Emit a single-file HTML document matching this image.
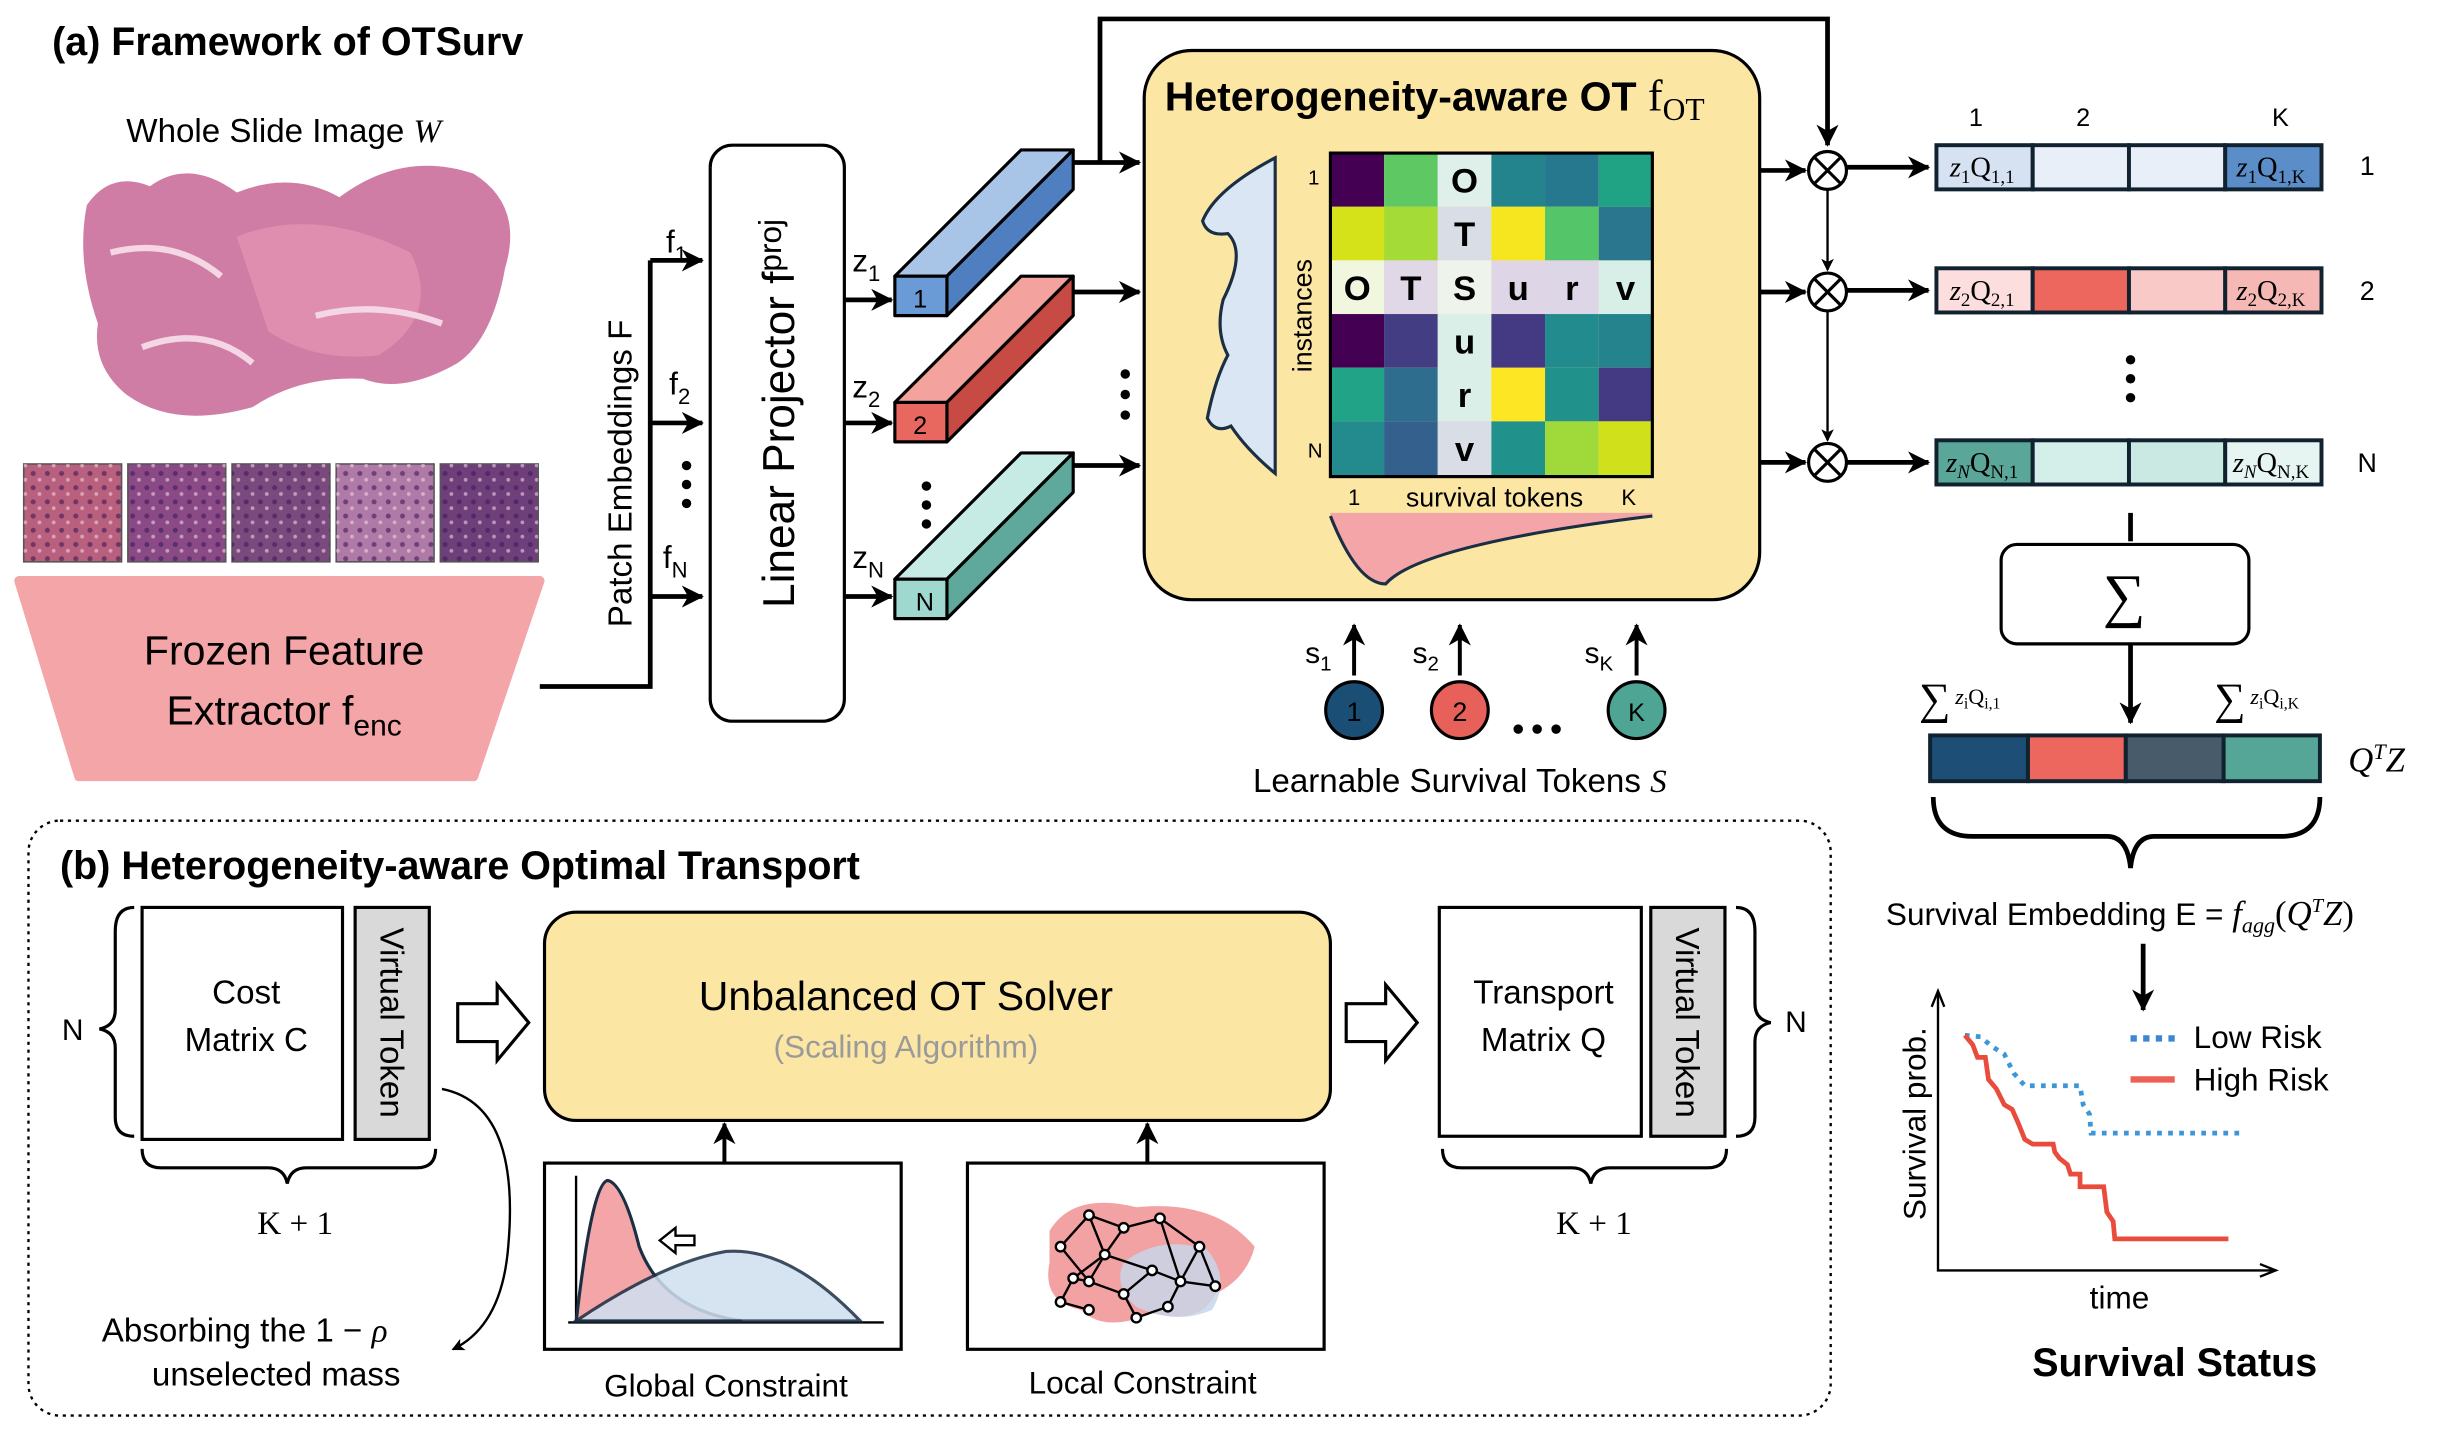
<!DOCTYPE html>
<html><head><meta charset="utf-8"><style>
html,body{margin:0;padding:0;background:#fff;}
svg{display:block;}
text{font-family:"Liberation Sans","DejaVu Sans",sans-serif;fill:#000;}
.s{font-family:"Liberation Serif",serif;}
</style></head><body>
<svg width="2462" height="1429" viewBox="0 0 1560 905.5" xmlns="http://www.w3.org/2000/svg">
<defs>
<marker id="ar" markerWidth="8" markerHeight="8" refX="7" refY="4" orient="auto" markerUnits="userSpaceOnUse"><path d="M0,0 L8,4 L0,8 L2,4z" fill="#000"/></marker>
<marker id="ab" markerWidth="14" markerHeight="14" refX="13" refY="7" orient="auto" markerUnits="userSpaceOnUse"><path d="M0,0 L14,7 L0,14 L4,7z" fill="#000"/></marker>
<pattern id="tex" width="9" height="9" patternUnits="userSpaceOnUse"><circle cx="3" cy="3" r="1.6" fill="#3d1a55" opacity="0.6"/><circle cx="7" cy="7" r="1.2" fill="#f0d0e0" opacity="0.6"/></pattern>
</defs>
<rect width="1560" height="906" fill="#fff"/>
<!-- (a) -->
<text x="33" y="35" font-size="25" font-weight="bold">(a) Framework of OTSurv</text>
<text x="80" y="90" font-size="21">Whole Slide Image <tspan class="s" font-style="italic">W</tspan></text>
<path d="M55,130 Q70,108 95,118 Q120,100 150,122 Q185,108 215,125 Q255,95 300,110 Q332,130 320,170 Q312,215 290,230 Q255,250 230,240 Q190,238 160,258 Q110,272 80,250 Q58,232 62,205 Q48,165 55,130z" fill="#c45c8e" opacity="0.8"/>
<path d="M150,150 Q200,130 260,160 Q280,200 240,225 Q200,230 170,210z" fill="#e596b3" opacity="0.7"/>
<path d="M70,160 Q110,150 140,175 M200,200 Q240,190 280,205 M90,220 Q130,205 160,230" stroke="#f4d6e4" stroke-width="4" fill="none"/>
<g stroke="#555" stroke-width="1">
<rect x="15" y="294" width="62" height="62" fill="#b8607e"/>
<rect x="81" y="294" width="62" height="62" fill="#8a4a86"/>
<rect x="147" y="294" width="62" height="62" fill="#7a4a7e"/>
<rect x="213" y="294" width="62" height="62" fill="#b07aa8"/>
<rect x="279" y="294" width="62" height="62" fill="#6e3f7a"/>
</g>
<g fill="url(#tex)"><rect x="15" y="294" width="62" height="62"/><rect x="81" y="294" width="62" height="62"/><rect x="147" y="294" width="62" height="62"/><rect x="213" y="294" width="62" height="62"/><rect x="279" y="294" width="62" height="62"/></g>
<path d="M12,368 L342,368 L300,492 L50,492z" fill="#f4a5a8" stroke="#f4a5a8" stroke-width="6" stroke-linejoin="round"/>
<text x="180" y="421" font-size="26" text-anchor="middle">Frozen Feature</text>
<text x="180" y="459" font-size="26" text-anchor="middle">Extractor f<tspan font-size="19" dy="7">enc</tspan></text>
<path d="M342,435 L412,435 L412,165" fill="none" stroke="#000" stroke-width="3"/>
<line x1="412" y1="165" x2="445" y2="165" stroke="#000" stroke-width="3" marker-end="url(#ab)"/>
<line x1="412" y1="268" x2="445" y2="268" stroke="#000" stroke-width="3" marker-end="url(#ab)"/>
<line x1="412" y1="378" x2="445" y2="378" stroke="#000" stroke-width="3" marker-end="url(#ab)"/>
<text transform="translate(400,300) rotate(-90)" font-size="21" text-anchor="middle">Patch Embeddings F</text>
<text x="422" y="160" font-size="20">f<tspan font-size="14" dy="6">1</tspan></text>
<text x="424" y="250" font-size="20">f<tspan font-size="14" dy="6">2</tspan></text>
<text x="420" y="360" font-size="20">f<tspan font-size="14" dy="6">N</tspan></text>
<g fill="#000"><circle cx="435" cy="295" r="3"/><circle cx="435" cy="307" r="3"/><circle cx="435" cy="319" r="3"/></g>
<rect x="450" y="92" width="85" height="365" rx="14" fill="#fff" stroke="#000" stroke-width="2"/>
<text transform="translate(503,262) rotate(-90)" font-size="28" text-anchor="middle">Linear Projector f<tspan font-size="20" dy="-8">proj</tspan></text>
<line x1="535" y1="190" x2="565" y2="190" stroke="#000" stroke-width="3" marker-end="url(#ab)"/>
<line x1="535" y1="268" x2="565" y2="268" stroke="#000" stroke-width="3" marker-end="url(#ab)"/>
<line x1="535" y1="378" x2="565" y2="378" stroke="#000" stroke-width="3" marker-end="url(#ab)"/>
<text x="540" y="172" font-size="20">z<tspan font-size="14" dy="6">1</tspan></text>
<text x="540" y="252" font-size="20">z<tspan font-size="14" dy="6">2</tspan></text>
<text x="540" y="360" font-size="20">z<tspan font-size="14" dy="6">N</tspan></text>
<g fill="#000"><circle cx="587" cy="308" r="3"/><circle cx="587" cy="320" r="3"/><circle cx="587" cy="332" r="3"/></g>
<g stroke="#000" stroke-width="2" stroke-linejoin="round">
<path d="M567,175 L647,95 L680,95 L600,175z" fill="#a8c4e6"/><path d="M600,175 L680,95 L680,120 L600,200z" fill="#4f7fc0"/><rect x="567" y="175" width="33" height="25" fill="#6b9bd6"/>
<path d="M567,255 L647,175 L680,175 L600,255z" fill="#f3a29d"/><path d="M600,255 L680,175 L680,200 L600,280z" fill="#c84a45"/><rect x="567" y="255" width="33" height="25" fill="#e8685f"/>
<path d="M567,367 L647,287 L680,287 L600,367z" fill="#c6ebe5"/><path d="M600,367 L680,287 L680,312 L600,392z" fill="#5fa89c"/><rect x="567" y="367" width="33" height="25" fill="#9fd8cf"/>
</g>
<text x="583" y="195" font-size="16" text-anchor="middle">1</text>
<text x="583" y="275" font-size="16" text-anchor="middle">2</text>
<text x="586" y="387" font-size="16" text-anchor="middle">N</text>
<line x1="680" y1="103" x2="722" y2="103" stroke="#000" stroke-width="3" marker-end="url(#ab)"/>
<line x1="680" y1="185" x2="722" y2="185" stroke="#000" stroke-width="3" marker-end="url(#ab)"/>
<line x1="680" y1="295" x2="722" y2="295" stroke="#000" stroke-width="3" marker-end="url(#ab)"/>
<g fill="#000"><circle cx="713" cy="237" r="3"/><circle cx="713" cy="250" r="3"/><circle cx="713" cy="263" r="3"/></g>
<path d="M697,103 L697,12 L1158,12 L1158,92" fill="none" stroke="#000" stroke-width="3" marker-end="url(#ab)"/>
<rect x="725" y="32" width="390" height="348" rx="30" fill="#fce6a4" stroke="#000" stroke-width="2"/>
<text x="738" y="70" font-size="26" font-weight="bold">Heterogeneity-aware OT <tspan class="s" font-weight="normal" font-size="28">f</tspan><tspan class="s" font-weight="normal" font-size="20" dy="6">OT</tspan></text>
<path d="M808,100 Q770,120 762,140 Q765,150 778,148 Q790,160 775,190 Q770,210 778,225 Q770,240 765,265 Q770,275 780,270 Q790,285 808,300z" fill="#dbe6f4" stroke="#1a2f44" stroke-width="2"/>
<g>
<rect x="843" y="97" width="34" height="34" fill="#440154"/><rect x="877" y="97" width="34" height="34" fill="#5ec962"/><rect x="911" y="97" width="34" height="34" fill="#dff0ea"/><rect x="945" y="97" width="34" height="34" fill="#23848e"/><rect x="979" y="97" width="34" height="34" fill="#26788e"/><rect x="1013" y="97" width="34" height="34" fill="#20a385"/>
<rect x="843" y="131" width="34" height="34" fill="#d5e21a"/><rect x="877" y="131" width="34" height="34" fill="#a5db36"/><rect x="911" y="131" width="34" height="34" fill="#d8dde6"/><rect x="945" y="131" width="34" height="34" fill="#f6e620"/><rect x="979" y="131" width="34" height="34" fill="#54c568"/><rect x="1013" y="131" width="34" height="34" fill="#2a768e"/>
<rect x="843" y="165" width="34" height="34" fill="#f1f7de"/><rect x="877" y="165" width="34" height="34" fill="#e0d7e7"/><rect x="911" y="165" width="34" height="34" fill="#eef3ec"/><rect x="945" y="165" width="34" height="34" fill="#ded5e6"/><rect x="979" y="165" width="34" height="34" fill="#dcd6e6"/><rect x="1013" y="165" width="34" height="34" fill="#d8efe8"/>
<rect x="843" y="199" width="34" height="34" fill="#440154"/><rect x="877" y="199" width="34" height="34" fill="#433d84"/><rect x="911" y="199" width="34" height="34" fill="#d9efe8"/><rect x="945" y="199" width="34" height="34" fill="#443983"/><rect x="979" y="199" width="34" height="34" fill="#228b8d"/><rect x="1013" y="199" width="34" height="34" fill="#25838e"/>
<rect x="843" y="233" width="34" height="34" fill="#20a386"/><rect x="877" y="233" width="34" height="34" fill="#2e6d8e"/><rect x="911" y="233" width="34" height="34" fill="#d9efe8"/><rect x="945" y="233" width="34" height="34" fill="#fde725"/><rect x="979" y="233" width="34" height="34" fill="#21918c"/><rect x="1013" y="233" width="34" height="34" fill="#443a83"/>
<rect x="843" y="267" width="34" height="35" fill="#238a8d"/><rect x="877" y="267" width="34" height="35" fill="#34608d"/><rect x="911" y="267" width="34" height="35" fill="#d8dde6"/><rect x="945" y="267" width="34" height="35" fill="#21918c"/><rect x="979" y="267" width="34" height="35" fill="#9fda3a"/><rect x="1013" y="267" width="34" height="35" fill="#d0e11c"/>
<rect x="843" y="97" width="204" height="205" fill="none" stroke="#000" stroke-width="2"/>
</g>
<g font-size="22" font-weight="bold" text-anchor="middle">
<text x="928" y="122">O</text><text x="928" y="156">T</text>
<text x="860" y="190">O</text><text x="894" y="190">T</text><text x="928" y="190">S</text><text x="962" y="190">u</text><text x="996" y="190">r</text><text x="1030" y="190">v</text>
<text x="928" y="224">u</text><text x="928" y="258">r</text><text x="928" y="292">v</text>
</g>
<text x="836" y="117" font-size="13" text-anchor="end">1</text>
<text x="838" y="290" font-size="13" text-anchor="end">N</text>
<text transform="translate(831,200) rotate(-90)" font-size="17" text-anchor="middle">instances</text>
<text x="858" y="320" font-size="14" text-anchor="middle">1</text>
<text x="947" y="321" font-size="17" text-anchor="middle">survival tokens</text>
<text x="1032" y="320" font-size="14" text-anchor="middle">K</text>
<path d="M843,327 Q860,370 878,370 Q900,345 1047,327 L1047,325 L843,325z" fill="#f4a5a8"/>
<path d="M843,327 Q860,370 878,370 Q900,345 1047,327" fill="none" stroke="#1a2f44" stroke-width="2"/>
<g stroke="#000" stroke-width="2.5">
<line x1="858" y1="428" x2="858" y2="396" marker-end="url(#ab)"/><line x1="925" y1="428" x2="925" y2="396" marker-end="url(#ab)"/><line x1="1037" y1="428" x2="1037" y2="396" marker-end="url(#ab)"/>
</g>
<text x="827" y="420" font-size="19">s<tspan font-size="13" dy="5">1</tspan></text>
<text x="895" y="420" font-size="19">s<tspan font-size="13" dy="5">2</tspan></text>
<text x="1004" y="420" font-size="19">s<tspan font-size="13" dy="5">K</tspan></text>
<circle cx="858" cy="450" r="18" fill="#1a4e74" stroke="#000" stroke-width="2"/>
<circle cx="925" cy="450" r="18" fill="#e8605a" stroke="#000" stroke-width="2"/>
<circle cx="1037" cy="450" r="18" fill="#4ea594" stroke="#000" stroke-width="2"/>
<text x="858" y="457" font-size="17" text-anchor="middle">1</text><text x="925" y="457" font-size="17" text-anchor="middle">2</text><text x="1037" y="457" font-size="16" text-anchor="middle">K</text>
<g fill="#000"><circle cx="962" cy="462" r="3"/><circle cx="974" cy="462" r="3"/><circle cx="986" cy="462" r="3"/></g>
<text x="925" y="502" font-size="21" text-anchor="middle">Learnable Survival Tokens <tspan class="s" font-style="italic">S</tspan></text>
<g stroke="#000" stroke-width="2" fill="#fff">
<circle cx="1158" cy="108" r="12"/><circle cx="1158" cy="185" r="12"/><circle cx="1158" cy="293" r="12"/>
<path d="M1150,100 L1166,116 M1166,100 L1150,116 M1150,177 L1166,193 M1166,177 L1150,193 M1150,285 L1166,301 M1166,285 L1150,301"/>
</g>
<g stroke="#000" stroke-width="3">
<line x1="1115" y1="108" x2="1144" y2="108" marker-end="url(#ab)"/><line x1="1115" y1="185" x2="1144" y2="185" marker-end="url(#ab)"/><line x1="1115" y1="293" x2="1144" y2="293" marker-end="url(#ab)"/>
<line x1="1170" y1="106" x2="1222" y2="106" marker-end="url(#ab)"/><line x1="1170" y1="184" x2="1222" y2="184" marker-end="url(#ab)"/><line x1="1170" y1="293" x2="1222" y2="293" marker-end="url(#ab)"/>
</g>
<g stroke="#000" stroke-width="1.5"><line x1="1158" y1="120" x2="1158" y2="171" marker-end="url(#ar)"/><line x1="1158" y1="197" x2="1158" y2="279" marker-end="url(#ar)"/></g>
<g stroke="#10222f" stroke-width="2.5">
<rect x="1227" y="92" width="61" height="28" fill="#d6e2f2"/><rect x="1288" y="92" width="61" height="28" fill="#e9eff8"/><rect x="1349" y="92" width="61" height="28" fill="#e9eff8"/><rect x="1410" y="92" width="61" height="28" fill="#5b8dc8"/>
<rect x="1227" y="170" width="61" height="28" fill="#fbdedd"/><rect x="1288" y="170" width="61" height="28" fill="#ee675f"/><rect x="1349" y="170" width="61" height="28" fill="#f8c9c7"/><rect x="1410" y="170" width="61" height="28" fill="#f5b8b5"/>
<rect x="1227" y="279" width="61" height="28" fill="#5aa698"/><rect x="1288" y="279" width="61" height="28" fill="#d4eee9"/><rect x="1349" y="279" width="61" height="28" fill="#c9e9e2"/><rect x="1410" y="279" width="61" height="28" fill="#e7f5f2"/>
</g>
<g font-size="18" text-anchor="middle">
<text x="1256" y="112" class="s" font-style="italic">z<tspan font-size="12" dy="4" font-style="normal">1</tspan><tspan dy="-4" font-style="normal">Q</tspan><tspan font-size="12" dy="4" font-style="normal">1,1</tspan></text>
<text x="1439" y="112" class="s" font-style="italic">z<tspan font-size="12" dy="4" font-style="normal">1</tspan><tspan dy="-4" font-style="normal">Q</tspan><tspan font-size="12" dy="4" font-style="normal">1,K</tspan></text>
<text x="1256" y="190" class="s" font-style="italic">z<tspan font-size="12" dy="4" font-style="normal">2</tspan><tspan dy="-4" font-style="normal">Q</tspan><tspan font-size="12" dy="4" font-style="normal">2,1</tspan></text>
<text x="1439" y="190" class="s" font-style="italic">z<tspan font-size="12" dy="4" font-style="normal">2</tspan><tspan dy="-4" font-style="normal">Q</tspan><tspan font-size="12" dy="4" font-style="normal">2,K</tspan></text>
<text x="1256" y="299" class="s" font-style="italic">z<tspan font-size="12" dy="4">N</tspan><tspan dy="-4" font-style="normal">Q</tspan><tspan font-size="12" dy="4" font-style="normal">N,1</tspan></text>
<text x="1439" y="299" class="s" font-style="italic">z<tspan font-size="12" dy="4">N</tspan><tspan dy="-4" font-style="normal">Q</tspan><tspan font-size="12" dy="4" font-style="normal">N,K</tspan></text>
</g>
<text x="1252" y="80" font-size="16" text-anchor="middle">1</text><text x="1320" y="80" font-size="16" text-anchor="middle">2</text><text x="1445" y="80" font-size="16" text-anchor="middle">K</text>
<text x="1500" y="111" font-size="17" text-anchor="middle">1</text><text x="1500" y="190" font-size="17" text-anchor="middle">2</text><text x="1500" y="299" font-size="17" text-anchor="middle">N</text>
<g fill="#000"><circle cx="1350" cy="228" r="3"/><circle cx="1350" cy="240" r="3"/><circle cx="1350" cy="252" r="3"/></g>
<line x1="1350" y1="325" x2="1350" y2="343" stroke="#000" stroke-width="3"/>
<rect x="1268" y="345" width="157" height="63" rx="10" fill="#fff" stroke="#000" stroke-width="2"/>
<text x="1346" y="390" font-size="38" text-anchor="middle" class="s">∑</text>
<line x1="1350" y1="408" x2="1350" y2="458" stroke="#000" stroke-width="3" marker-end="url(#ab)"/>
<text x="1216" y="452" font-size="28" class="s">∑<tspan font-size="14" dx="3" dy="-6" font-style="italic">z</tspan><tspan font-size="10" dy="3">i</tspan><tspan font-size="14" dy="-3">Q</tspan><tspan font-size="10" dy="3">i,1</tspan></text>
<text x="1403" y="452" font-size="28" class="s">∑<tspan font-size="14" dx="3" dy="-6" font-style="italic">z</tspan><tspan font-size="10" dy="3">i</tspan><tspan font-size="14" dy="-3">Q</tspan><tspan font-size="10" dy="3">i,K</tspan></text>
<g stroke="#10222f" stroke-width="2.5">
<rect x="1223" y="466" width="62" height="29" fill="#1d4e75"/><rect x="1285" y="466" width="62" height="29" fill="#ee675f"/><rect x="1347" y="466" width="62" height="29" fill="#475b6a"/><rect x="1409" y="466" width="61" height="29" fill="#56a697"/>
</g>
<text x="1488" y="489" font-size="22" class="s" font-style="italic">Q<tspan font-size="14" dy="-8">T</tspan><tspan dy="8">Z</tspan></text>
<path d="M1225,505 Q1225,530 1250,530 L1335,530 Q1348,530 1350,550 Q1352,530 1365,530 L1445,530 Q1470,530 1470,505" fill="none" stroke="#000" stroke-width="3"/>
<text x="1195" y="586" font-size="20">Survival Embedding E = <tspan class="s" font-style="italic" font-size="22">f</tspan><tspan class="s" font-style="italic" font-size="14" dy="5">agg</tspan><tspan class="s" dy="-5" font-size="22">(</tspan><tspan class="s" font-style="italic" font-size="22">Q</tspan><tspan class="s" font-style="italic" font-size="13" dy="-8">T</tspan><tspan class="s" font-style="italic" dy="8" font-size="22">Z</tspan><tspan class="s" font-size="22">)</tspan></text>
<line x1="1358" y1="598" x2="1358" y2="640" stroke="#000" stroke-width="3" marker-end="url(#ab)"/>
<path d="M1228,630 L1228,805 L1440,805" fill="none" stroke="#000" stroke-width="1.5"/>
<path d="M1224,638 L1228,628 L1232,638" fill="none" stroke="#000" stroke-width="1.5"/><path d="M1432,801 L1442,805 L1432,809" fill="none" stroke="#000" stroke-width="1.5"/>
<path d="M1245,656 L1255,657 L1262,663 L1270,668 L1276,680 L1283,688 L1318,688 L1320,700 L1324,706 L1325,718 L1420,718" fill="none" stroke="#3d96d8" stroke-width="3" stroke-dasharray="3,4"/>
<path d="M1245,656 L1250,662 L1253,670 L1258,670 L1260,684 L1265,690 L1270,700 L1275,703 L1279,712 L1283,722 L1288,725 L1301,725 L1302,730 L1305,734 L1310,738 L1312,744 L1318,744 L1318,752 L1333,752 L1335,768 L1339,774 L1340,785 L1412,785" fill="none" stroke="#e94c3d" stroke-width="3"/>
<line x1="1350" y1="658" x2="1378" y2="658" stroke="#3d86d0" stroke-width="4" stroke-dasharray="4,4"/>
<line x1="1350" y1="684" x2="1378" y2="684" stroke="#ee5f55" stroke-width="4"/>
<text x="1390" y="664" font-size="20">Low Risk</text>
<text x="1390" y="691" font-size="20">High Risk</text>
<text transform="translate(1220,712) rotate(-90)" font-size="20" text-anchor="middle">Survival prob.</text>
<text x="1343" y="829" font-size="20" text-anchor="middle">time</text>
<text x="1378" y="872" font-size="25" font-weight="bold" text-anchor="middle">Survival Status</text>
<!-- (b) -->
<rect x="18" y="520" width="1142" height="377" rx="20" fill="none" stroke="#000" stroke-width="1.5" stroke-dasharray="2,3"/>
<text x="38" y="557" font-size="25" font-weight="bold">(b) Heterogeneity-aware Optimal Transport</text>
<rect x="90" y="575" width="127" height="147" fill="#fff" stroke="#000" stroke-width="2"/>
<rect x="225" y="575" width="47" height="147" fill="#d9d9d9" stroke="#000" stroke-width="2"/>
<text x="156" y="636" font-size="21" text-anchor="middle">Cost</text>
<text x="156" y="666" font-size="21" text-anchor="middle">Matrix C</text>
<text transform="translate(241,648) rotate(90)" font-size="21" text-anchor="middle">Virtual Token</text>
<path d="M85,575 Q73,575 73,590 L73,640 Q73,650 63,652 Q73,654 73,664 L73,708 Q73,720 85,720" fill="none" stroke="#000" stroke-width="2"/>
<text x="46" y="659" font-size="19" text-anchor="middle">N</text>
<path d="M90,728 Q90,740 102,740 L170,740 Q180,740 182,750 Q184,740 194,740 L264,740 Q276,740 276,728" fill="none" stroke="#000" stroke-width="2"/>
<text x="187" y="782" font-size="21" text-anchor="middle" class="s">K + 1</text>
<path d="M280,690 Q330,700 322,790 Q318,840 287,855" fill="none" stroke="#000" stroke-width="1.5" marker-end="url(#ar)"/>
<text x="155" y="850" font-size="21" text-anchor="middle">Absorbing the 1 − <tspan class="s" font-style="italic">ρ</tspan></text>
<text x="175" y="878" font-size="21" text-anchor="middle">unselected mass</text>
<path d="M290,636 L315,636 L315,624 L335,648 L315,672 L315,660 L290,660z" fill="#fff" stroke="#000" stroke-width="2"/>
<rect x="345" y="578" width="498" height="132" rx="20" fill="#fce6a4" stroke="#000" stroke-width="2"/>
<text x="574" y="640" font-size="26" text-anchor="middle">Unbalanced OT Solver</text>
<text x="574" y="670" font-size="20" text-anchor="middle" style="fill:#9a9a9a">(Scaling Algorithm)</text>
<line x1="459" y1="737" x2="459" y2="712" stroke="#000" stroke-width="2.5" marker-end="url(#ab)"/>
<line x1="727" y1="737" x2="727" y2="712" stroke="#000" stroke-width="2.5" marker-end="url(#ab)"/>
<path d="M853,636 L878,636 L878,624 L898,648 L878,672 L878,660 L853,660z" fill="#fff" stroke="#000" stroke-width="2"/>
<rect x="345" y="737" width="226" height="118" fill="#fff" stroke="#000" stroke-width="2"/>
<rect x="613" y="737" width="226" height="118" fill="#fff" stroke="#000" stroke-width="2"/>
<path d="M365,838 L365,745 M360,838 L560,838" stroke="#000" stroke-width="1.5" fill="none"/>
<path d="M365,838 Q375,750 385,748 Q395,750 405,790 Q420,830 470,837 L365,837z" fill="#f4a5a8" stroke="#1a2f44" stroke-width="2"/>
<path d="M365,837 Q420,800 460,793 Q500,790 545,837z" fill="#cfe0f0" stroke="#1a2f44" stroke-width="2" opacity="0.85"/>
<path d="M418,786 L428,778 L428,783 L440,783 L440,789 L428,789 L428,794z" fill="#fff" stroke="#000" stroke-width="1.5"/>
<path d="M665,780 Q680,755 720,765 Q770,760 795,790 Q790,810 770,820 Q760,840 730,832 Q700,845 685,830 Q660,825 665,800z" fill="#f3a2a4"/>
<path d="M712,800 Q735,782 765,792 Q780,810 768,830 Q745,840 720,828 Q705,815 712,800z" fill="#c7d6ea" opacity="0.85"/>
<g stroke="#000" stroke-width="1.5" fill="none">
<path d="M672,790 L690,770 L712,778 L735,772 L760,790 L748,812 L730,805 L712,820 L690,812 L672,790 M690,770 L700,795 L730,805 M712,778 L700,795 L690,812 M735,772 L748,812 M760,790 L770,815 L748,812 M712,820 L720,835 L740,828 L748,812 M680,810 L690,812 M700,795 L680,810 L672,825 L690,830"/>
</g>
<g fill="#fff" stroke="#000" stroke-width="1.5">
<circle cx="672" cy="790" r="3"/><circle cx="690" cy="770" r="3"/><circle cx="712" cy="778" r="3"/><circle cx="735" cy="772" r="3"/><circle cx="760" cy="790" r="3"/><circle cx="748" cy="812" r="3"/><circle cx="730" cy="805" r="3"/><circle cx="712" cy="820" r="3"/><circle cx="690" cy="812" r="3"/><circle cx="700" cy="795" r="3"/><circle cx="770" cy="815" r="3"/><circle cx="720" cy="835" r="3"/><circle cx="740" cy="828" r="3"/><circle cx="680" cy="810" r="3"/><circle cx="672" cy="825" r="3"/><circle cx="690" cy="830" r="3"/>
</g>
<text x="460" y="885" font-size="20" text-anchor="middle">Global Constraint</text>
<text x="724" y="883" font-size="20" text-anchor="middle">Local Constraint</text>
<rect x="912" y="575" width="128" height="145" fill="#fff" stroke="#000" stroke-width="2"/>
<rect x="1046" y="575" width="47" height="145" fill="#d9d9d9" stroke="#000" stroke-width="2"/>
<text x="978" y="636" font-size="21" text-anchor="middle">Transport</text>
<text x="978" y="666" font-size="21" text-anchor="middle">Matrix Q</text>
<text transform="translate(1062,648) rotate(90)" font-size="21" text-anchor="middle">Virtual Token</text>
<path d="M1100,575 Q1112,575 1112,590 L1112,636 Q1112,646 1122,648 Q1112,650 1112,660 L1112,708 Q1112,720 1100,720" fill="none" stroke="#000" stroke-width="2"/>
<text x="1138" y="654" font-size="19" text-anchor="middle">N</text>
<path d="M914,728 Q914,740 926,740 L996,740 Q1006,740 1008,750 Q1010,740 1020,740 L1082,740 Q1094,740 1094,728" fill="none" stroke="#000" stroke-width="2"/>
<text x="1010" y="782" font-size="21" text-anchor="middle" class="s">K + 1</text>
</svg>
</body></html>
